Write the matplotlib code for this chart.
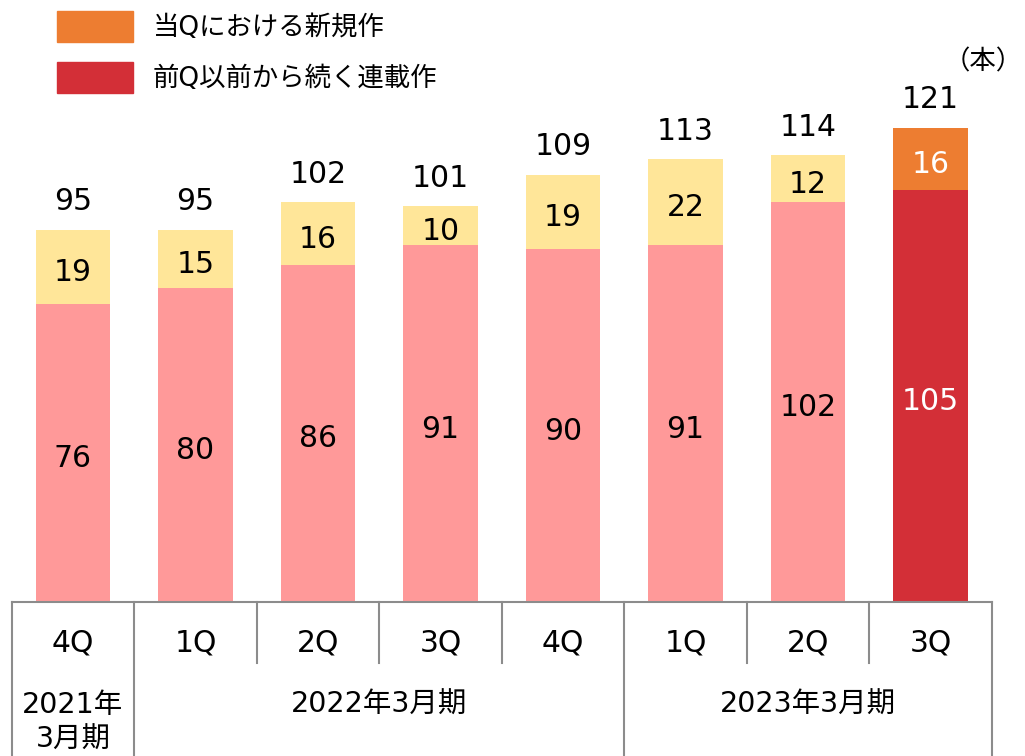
import matplotlib.pyplot as plt
from matplotlib.patches import Rectangle

plt.rcParams['font.family'] = ['DejaVu Sans', 'Noto Sans CJK JP']

# data
quarters = ['4Q', '1Q', '2Q', '3Q', '4Q', '1Q', '2Q', '3Q']
carryover = [76, 80, 86, 91, 90, 91, 102, 105]   # 前Q以前から続く連載作
new_works = [19, 15, 16, 10, 19, 22, 12, 16]     # 当Qにおける新規作
years = ['2021年\n3月期', '2022年3月期', '2023年3月期']
year_spans = [(0, 1), (1, 5), (5, 8)]

pink = '#FF9999'
yellow = '#FFE699'
red = '#D32F37'
orange = '#ED7D31'

fig = plt.figure(figsize=(10.25, 7.56), dpi=100)
# axes: left 11.75px .. 991.75px, bottom at 602px, 3.92 px per unit
ax = fig.add_axes([11.75 / 1025, (756 - 602) / 756, 980 / 1025, 140 * 3.92 / 756])
ax.set_xlim(-0.5, 7.5)
ax.set_ylim(0, 140)
ax.axis('off')

x = list(range(len(quarters)))
bw = 0.605
low_colors = [pink] * 7 + [red]
top_colors = [yellow] * 7 + [orange]
ax.bar(x, carryover, width=bw, color=low_colors, zorder=2)
ax.bar(x, new_works, width=bw, bottom=carryover, color=top_colors, zorder=2)

fs = 21.5
dy = -4  # small downward nudge in points
for i in x:
    tc = 'white' if i == 7 else 'black'
    ax.annotate(str(carryover[i]), (i, carryover[i] / 2), xytext=(0, dy),
                textcoords='offset points', ha='center', va='center',
                fontsize=fs, color=tc)
    ax.annotate(str(new_works[i]), (i, carryover[i] + new_works[i] / 2), xytext=(0, dy),
                textcoords='offset points', ha='center', va='center',
                fontsize=fs, color=tc)
    total = carryover[i] + new_works[i]
    ax.annotate(str(total), (i, total), xytext=(0, 24 + dy), textcoords='offset points',
                ha='center', va='center', fontsize=fs, color='black')

# category table below the bars
lc = '#8C8C8C'
ypx = 3.92
y_mid = -(663 - 602) / ypx
y_bot = -(760 - 602) / ypx
ax.plot([-0.5, 7.5], [0, 0], color=lc, lw=1.5, clip_on=False)
group_edges = [-0.5, 0.5, 4.5, 7.5]
for k in range(9):
    xe = -0.5 + k
    yb = y_bot if xe in group_edges else y_mid
    ax.plot([xe, xe], [0, yb], color=lc, lw=1.5, clip_on=False)

for i, q in enumerate(quarters):
    ax.text(i, -(643 - 602) / ypx, q, ha='center', va='center', fontsize=fs)

for label, (a, b) in zip(years, year_spans):
    yy = -(722 - 602) / ypx if '\n' in label else -(705 - 602) / ypx
    ax.text((a + b - 1) / 2, yy, label, ha='center', va='center', fontsize=fs - 1,
            linespacing=1.3)

# legend
fig.add_artist(Rectangle((57 / 1025, (756 - 42) / 756), 76 / 1025, 31 / 756,
                         transform=fig.transFigure, color=orange))
fig.add_artist(Rectangle((57 / 1025, (756 - 93) / 756), 76 / 1025, 31 / 756,
                         transform=fig.transFigure, color=red))
fig.text(153 / 1025, (756 - 28) / 756, '当Qにおける新規作', ha='left', va='center', fontsize=19)
fig.text(153 / 1025, (756 - 79) / 756, '前Q以前から続く連載作', ha='left', va='center', fontsize=19)
fig.text(1023 / 1025, (756 - 62) / 756, '（本）', ha='right', va='center', fontsize=19)

fig.savefig('out.png', dpi=100)
